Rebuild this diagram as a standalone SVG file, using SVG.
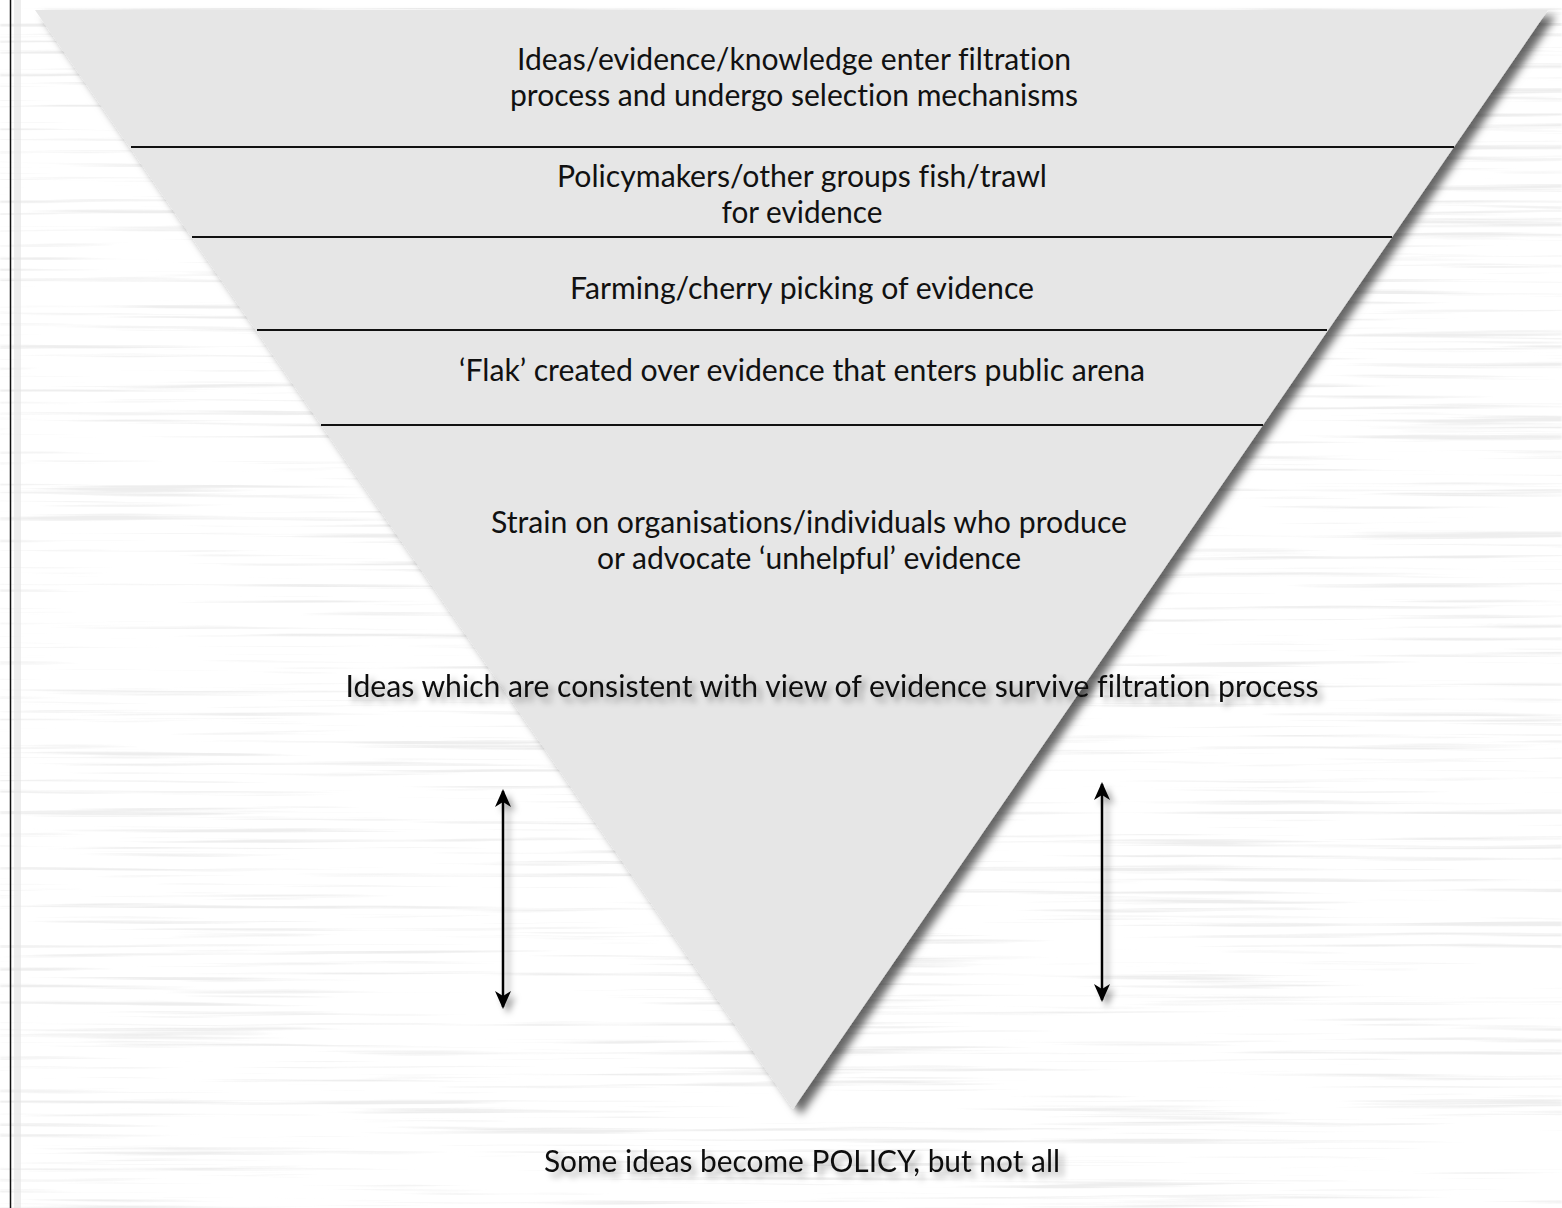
<svg xmlns="http://www.w3.org/2000/svg" width="1562" height="1208" viewBox="0 0 1562 1208">
  <style>
    .lbl { font-family: Lato, "Liberation Sans", sans-serif; font-size: 31px; fill: #111; text-anchor: middle; font-variant-ligatures: none; }
    .rule { stroke: #111; stroke-width: 2; }
    .arrow { stroke: #000; stroke-width: 2.5; fill: none; marker-start: url(#head); marker-end: url(#head); }
  </style>
  <defs>
    <filter id="grain" x="0" y="0" width="100%" height="100%">
      <feTurbulence type="fractalNoise" baseFrequency="0.003 0.18" numOctaves="3" seed="11" result="n"/>
      <feColorMatrix in="n" type="matrix" values="0 0 0 0 0.86  0 0 0 0 0.86  0 0 0 0 0.86  5 0 0 0 -2.8"/>
      <feGaussianBlur stdDeviation="1 0.5"/>
    </filter>
    <filter id="drop" x="-10%" y="-10%" width="130%" height="130%">
      <feGaussianBlur in="SourceAlpha" stdDeviation="4"/>
      <feOffset dx="8" dy="6" result="b"/>
      <feFlood flood-color="#000" flood-opacity="0.6"/>
      <feComposite in2="b" operator="in"/>
      <feMerge><feMergeNode/><feMergeNode in="SourceGraphic"/></feMerge>
    </filter>
    <filter id="softdrop" x="-20%" y="-20%" width="150%" height="160%">
      <feGaussianBlur in="SourceAlpha" stdDeviation="3"/>
      <feOffset dx="5" dy="5" result="b"/>
      <feFlood flood-color="#000" flood-opacity="0.35"/>
      <feComposite in2="b" operator="in"/>
      <feMerge><feMergeNode/><feMergeNode in="SourceGraphic"/></feMerge>
    </filter>
    <marker id="head" viewBox="0 0 18 16" refX="16" refY="8" markerWidth="18" markerHeight="16" markerUnits="userSpaceOnUse" orient="auto-start-reverse">
      <path d="M0,0 L18,8 L0,16 L5,8 z" fill="#000"/>
    </marker>
  </defs>

  <!-- paper with faint horizontal streaks -->
  <rect width="1562" height="1208" fill="#fff"/>
  <rect width="1562" height="1208" filter="url(#grain)"/>
  <rect x="0" y="0" width="1562" height="8" fill="#fff"/>

  <!-- left margin rule -->
  <rect x="14" y="0" width="7" height="1208" fill="#e2e2e2" opacity="0.6"/>
  <line x1="10.5" y1="0" x2="10.5" y2="1208" stroke="#111" stroke-width="1.5"/>

  <!-- funnel -->
  <g id="funnel" filter="url(#drop)">
    <polygon points="35,10 1548,10 793,1109" fill="#e6e6e6"/>
  </g>

  <g id="dividers">
    <line class="rule" x1="131" y1="147" x2="1454" y2="147"/>
    <line class="rule" x1="192" y1="237" x2="1392" y2="237"/>
    <line class="rule" x1="257" y1="330" x2="1327" y2="330"/>
    <line class="rule" x1="321" y1="425" x2="1263" y2="425"/>
  </g>

  <g id="stage-entry">
    <text class="lbl" x="794" y="70" textLength="554" lengthAdjust="spacingAndGlyphs">Ideas/evidence/knowledge enter filtration</text>
    <text class="lbl" x="794" y="106" textLength="568" lengthAdjust="spacingAndGlyphs">process and undergo selection mechanisms</text>
  </g>
  <g id="stage-fishing">
    <text class="lbl" x="802" y="187" textLength="490" lengthAdjust="spacingAndGlyphs">Policymakers/other groups fish/trawl</text>
    <text class="lbl" x="802" y="223" textLength="161" lengthAdjust="spacingAndGlyphs">for evidence</text>
  </g>
  <g id="stage-farming">
    <text class="lbl" x="802" y="299" textLength="464" lengthAdjust="spacingAndGlyphs">Farming/cherry picking of evidence</text>
  </g>
  <g id="stage-flak">
    <text class="lbl" x="802" y="381" textLength="686" lengthAdjust="spacingAndGlyphs">‘Flak’ created over evidence that enters public arena</text>
  </g>
  <g id="stage-strain">
    <text class="lbl" x="809" y="533" textLength="636" lengthAdjust="spacingAndGlyphs">Strain on organisations/individuals who produce</text>
    <text class="lbl" x="809" y="569" textLength="424" lengthAdjust="spacingAndGlyphs">or advocate ‘unhelpful’ evidence</text>
  </g>
  <g id="stage-survive" filter="url(#softdrop)">
    <text class="lbl" x="832" y="697" textLength="973" lengthAdjust="spacingAndGlyphs">Ideas which are consistent with view of evidence survive filtration process</text>
  </g>
  <g id="outcome" filter="url(#softdrop)">
    <text class="lbl" x="802" y="1172" textLength="516" lengthAdjust="spacingAndGlyphs">Some ideas become POLICY, but not all</text>
  </g>

  <g id="connectors" filter="url(#softdrop)">
    <line class="arrow" x1="503" y1="791" x2="503" y2="1007"/>
    <line class="arrow" x1="1102" y1="784" x2="1102" y2="1000"/>
  </g>
</svg>
